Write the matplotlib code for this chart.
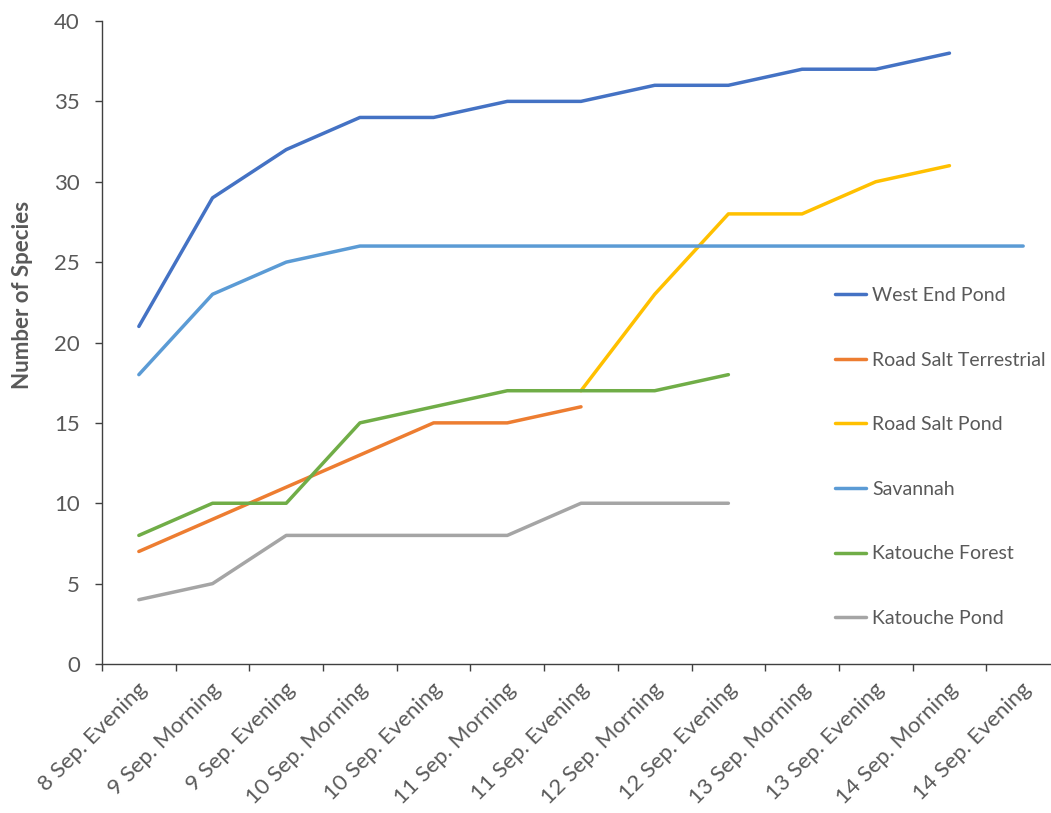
import numpy as np
import matplotlib
matplotlib.use("Agg")
import matplotlib.pyplot as plt
import matplotlib.transforms as mtransforms

sessions = ["8 Sep. Evening", "9 Sep. Morning", "9 Sep. Evening", "10 Sep. Morning",
            "10 Sep. Evening", "11 Sep. Morning", "11 Sep. Evening", "12 Sep. Morning",
            "12 Sep. Evening", "13 Sep. Morning", "13 Sep. Evening", "14 Sep. Morning",
            "14 Sep. Evening"]

west_end_pond = [21, 29, 32, 34, 34, 35, 35, 36, 36, 37, 37, 38, None]
road_salt_terrestrial = [7, 9, 11, 13, 15, 15, 16, None, None, None, None, None, None]
road_salt_pond = [None, None, None, None, None, None, 17, 23, 28, 28, 30, 31, None]
savannah = [18, 23, 25, 26, 26, 26, 26, 26, 26, 26, 26, 26, 26]
katouche_forest = [8, 10, 10, 15, 16, 17, 17, 17, 18, None, None, None, None]
katouche_pond = [4, 5, 8, 8, 8, 8, 10, 10, 10, None, None, None, None]

series = [
    ("West End Pond", west_end_pond, "#4472C4"),
    ("Road Salt Terrestrial", road_salt_terrestrial, "#ED7D31"),
    ("Road Salt Pond", road_salt_pond, "#FFC000"),
    ("Savannah", savannah, "#5B9BD5"),
    ("Katouche Forest", katouche_forest, "#70AD47"),
    ("Katouche Pond", katouche_pond, "#A5A5A5"),
]

plt.rcParams['font.family'] = ['Lato', 'DejaVu Sans']
text_col = "#595959"

fig = plt.figure(figsize=(10.51, 8.13), dpi=100)
ax = fig.add_axes([102 / 1051, 149 / 813, 958 / 1051, 643 / 813])

x = np.arange(len(sessions))
for name, vals, col in series:
    y = np.array(vals, dtype=float)
    ax.plot(x, y, color=col, lw=2.5, label=name, solid_capstyle='round')

ax.set_xlim(-0.5, len(sessions) - 0.5)
ax.set_ylim(0, 40)
ax.set_yticks(range(0, 41, 5))
ax.set_xticks(x)
ax.set_xticklabels(sessions, rotation=45, ha='right', va='center', rotation_mode='anchor')
ax.set_xticks(np.arange(len(sessions) + 1) - 0.5, minor=True)
ax.tick_params(axis='x', which='major', length=0, pad=16, labelsize=16, labelcolor=text_col)
ax.tick_params(axis='x', which='minor', length=5, width=1, color='#404040', direction='out')
ax.tick_params(axis='y', length=5, width=1, color='#404040', pad=11, labelsize=16, labelcolor=text_col)

# nudge rotated labels a little to the right, like the original
shift = mtransforms.ScaledTranslation(5 / 100, 0, fig.dpi_scale_trans)
for lbl in ax.get_xticklabels():
    lbl.set_transform(lbl.get_transform() + shift)

for s in ['top', 'right']:
    ax.spines[s].set_visible(False)
for s in ['left', 'bottom']:
    ax.spines[s].set_color('#404040')
    ax.spines[s].set_linewidth(1)

ax.set_ylabel("Number of Species", fontsize=16, fontweight='bold', color=text_col)
ax.yaxis.set_label_coords(-0.072, 0.574)

ax.legend(loc='center left', bbox_to_anchor=(835 / 1051, 1 - 457 / 813),
          bbox_transform=fig.transFigure, frameon=False, fontsize=14,
          labelcolor=text_col, handlelength=1.6, handletextpad=0.3,
          labelspacing=2.45, borderpad=0, borderaxespad=0)

fig.savefig("out.png", dpi=100)
